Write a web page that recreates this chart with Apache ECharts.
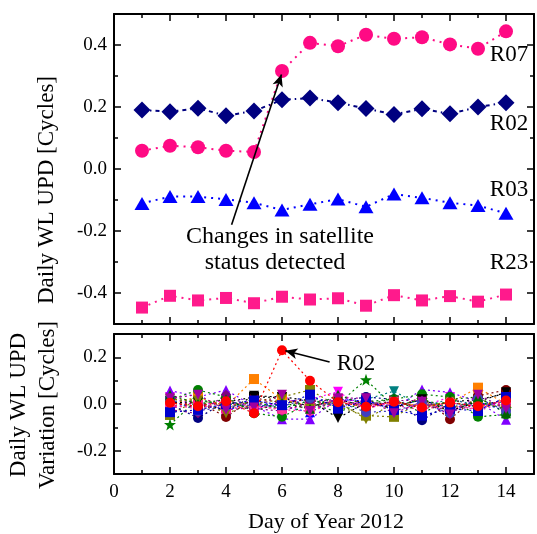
<!DOCTYPE html>
<html>
<head>
<meta charset="utf-8">
<script src="https://cdn.jsdelivr.net/npm/echarts@6/dist/echarts.min.js"></script>
<style>
  html, body { margin: 0; padding: 0; background: #fff; }
  #chart { width: 537px; height: 534px; }
</style>
</head>
<body>
<div id="chart"></div>
<script>
// Daily wide-lane UPD of selected GLONASS satellites (upper panel)
const days = [1, 2, 3, 4, 5, 6, 7, 8, 9, 10, 11, 12, 13, 14];
const r07 = [0.059, 0.075, 0.070, 0.059, 0.055, 0.316, 0.407, 0.396, 0.433, 0.420, 0.425, 0.402, 0.388, 0.444];
const r02 = [0.190, 0.185, 0.196, 0.172, 0.187, 0.223, 0.229, 0.214, 0.195, 0.176, 0.194, 0.178, 0.200, 0.214];
const r03 = [-0.111, -0.089, -0.089, -0.098, -0.109, -0.132, -0.114, -0.097, -0.122, -0.081, -0.093, -0.109, -0.118, -0.143];
const r23 = [-0.447, -0.409, -0.424, -0.416, -0.433, -0.412, -0.421, -0.417, -0.441, -0.407, -0.424, -0.410, -0.428, -0.405];

// Day-to-day variation of the UPD for every satellite (lower panel)
const varDays = [2, 3, 4, 5, 6, 7, 8, 9, 10, 11, 12, 13, 14];
const dR01 = [0.012, -0.018, 0.008, 0.030, 0.028, -0.012, 0.020, -0.010, 0.015, -0.020, 0.010, 0.018, 0.045];
const dR02 = [0.005, -0.010, 0.012, -0.040, 0.230, 0.100, 0.008, -0.012, 0.010, -0.015, 0.006, -0.010, 0.015];
const dR03 = [-0.020, 0.010, -0.030, 0.015, -0.010, -0.035, 0.020, 0.012, -0.010, 0.018, -0.020, 0.010, -0.030];
const dR04 = [0.030, -0.010, 0.020, -0.025, 0.010, 0.020, 0.053, -0.020, 0.010, -0.010, 0.030, -0.020, 0.010];
const dR05 = [-0.047, 0.020, -0.015, 0.010, 0.030, 0.060, -0.010, -0.050, -0.055, 0.010, -0.030, 0.020, -0.010];
const dR06 = [0.000, -0.060, 0.010, -0.020, 0.015, -0.010, 0.010, 0.030, 0.020, -0.070, 0.005, -0.010, 0.020];
const dR07 = [0.058, 0.030, 0.060, -0.010, -0.065, -0.065, 0.020, 0.010, -0.020, 0.062, 0.050, 0.010, -0.068];
const dR08 = [0.010, 0.020, -0.010, 0.000, -0.020, 0.015, -0.010, 0.020, 0.055, -0.010, 0.020, -0.005, 0.010];
const dR09 = [-0.010, 0.010, -0.056, 0.026, 0.005, 0.020, -0.015, 0.020, -0.020, 0.030, -0.065, 0.035, 0.060];
const dR10 = [0.000, 0.030, -0.010, 0.107, 0.020, -0.010, 0.015, -0.020, 0.010, -0.010, 0.005, 0.070, 0.000];
const dR11 = [-0.088, 0.020, -0.005, 0.010, -0.020, 0.015, 0.000, 0.104, -0.010, 0.020, -0.015, 0.010, -0.020];
const dR12 = [0.017, 0.060, 0.030, -0.040, -0.055, 0.003, -0.035, 0.010, 0.020, 0.042, 0.030, -0.055, -0.045];
const dR13 = [-0.015, -0.005, -0.020, -0.010, -0.020, -0.010, 0.020, -0.010, 0.010, -0.020, -0.010, -0.020, 0.020];
const dR14 = [0.005, 0.010, -0.030, 0.035, 0.030, 0.015, -0.060, 0.005, -0.015, 0.020, -0.030, 0.010, 0.050];
const dR15 = [-0.025, -0.040, 0.040, -0.020, -0.030, 0.010, 0.020, -0.020, 0.015, 0.015, -0.035, 0.000, -0.010];
const dR16 = [0.020, 0.015, -0.040, 0.000, 0.020, -0.020, 0.010, -0.065, 0.005, -0.010, 0.010, -0.015, 0.000];
const dR17 = [0.020, -0.030, -0.010, -0.005, -0.010, 0.025, 0.010, -0.035, -0.030, 0.005, -0.040, 0.025, -0.030];
const dR18 = [-0.005, -0.020, 0.010, -0.008, -0.025, -0.030, 0.005, 0.000, -0.005, -0.025, 0.010, -0.030, 0.010];
const dR19 = [0.040, 0.000, 0.020, -0.030, 0.005, -0.020, 0.040, -0.005, 0.025, -0.040, 0.020, 0.030, -0.040];
const dR20 = [-0.035, -0.025, 0.000, 0.015, -0.005, 0.040, -0.020, 0.015, -0.025, -0.050, -0.020, -0.030, 0.030];
const dR21 = [0.025, 0.040, -0.025, -0.015, 0.040, -0.030, 0.025, 0.025, -0.040, 0.010, -0.045, 0.040, -0.020];

// Axis ticks
const xMajor = [0, 2, 4, 6, 8, 10, 12, 14];
const xMinor = [1, 3, 5, 7, 9, 11, 13];
const yTopMajor = [-0.4, -0.2, 0, 0.2, 0.4];
const yTopMinor = [-0.3, -0.1, 0.1, 0.3];
const yBotMajor = [-0.2, 0, 0.2];
const yBotMinor = [-0.1, 0.1];

const FONT = '"Liberation Serif","Times New Roman",Times,serif';
const STAR = 'path://M0,-10L2.35,-3.24L9.51,-3.09L3.8,1.24L5.88,8.09L0,4L-5.88,8.09L-3.8,1.24L-9.51,-3.09L-2.35,-3.24Z';
const DOWN = 'path://M0,0L10,0L5,9Z';

const chart = echarts.init(document.getElementById('chart'), null, { renderer: 'canvas' });

const LINE = { show: true, onZero: false, lineStyle: { color: '#000', width: 2 } };
const TICK = { color: '#000', width: 1.5 };

function axisSet(dim, grid, min, max, major, minor, labelPositions, showLabel) {
  const list = [];
  labelPositions.forEach(function (pos, k) {
    const base = { type: 'value', gridIndex: grid, min: min, max: max, position: pos, splitLine: { show: false } };
    list.push(Object.assign({}, base, {
      axisLine: LINE,
      axisTick: { show: true, inside: true, length: 7, customValues: major, lineStyle: TICK },
      axisLabel: {
        show: showLabel && k === 0,
        customValues: major,
        margin: dim === 'x' ? 9 : 7,
        fontSize: 19,
        color: '#000',
        fontFamily: FONT,
        formatter: dim === 'x' ? function (v) { return String(v); } : function (v) { return v.toFixed(1); }
      }
    }));
    list.push(Object.assign({}, base, {
      axisLine: { show: false, onZero: false },
      axisTick: { show: true, inside: true, length: 4, customValues: minor, lineStyle: TICK },
      axisLabel: { show: false }
    }));
  });
  return list;
}

const xAxes = [].concat(
  axisSet('x', 0, 0, 15, xMajor, xMinor, ['bottom', 'top'], false),
  axisSet('x', 1, 0, 15, xMajor, xMinor, ['bottom', 'top'], true)
);
const yAxes = [].concat(
  axisSet('y', 0, -0.5, 0.5, yTopMajor, yTopMinor, ['left', 'right'], true),
  axisSet('y', 1, -0.3, 0.3, yBotMajor, yBotMinor, ['left', 'right'], true)
);

function pairs(xs, ys) { return xs.map(function (x, i) { return [x, ys[i]]; }); }

function nameLabel(offset) {
  return { show: true, formatter: '{a}', position: 'inside', offset: offset,
           fontSize: 23, color: '#000', fontFamily: FONT };
}

function topSeries(name, values, color, symbol, size, dash, labelOffset, extra) {
  const data = pairs(days, values);
  const last = data.length - 1;
  data[last] = { value: data[last], label: nameLabel(labelOffset) };
  return Object.assign({
    name: name, type: 'line', xAxisIndex: 0, yAxisIndex: 0,
    data: data, symbol: symbol, symbolSize: size, showSymbol: true,
    itemStyle: { color: color, borderWidth: 0 },
    lineStyle: { color: color, width: 2, type: dash },
    label: { show: false },
    animation: false, z: 3
  }, extra || {});
}

const series = [
  topSeries('R07', r07, '#FF0A84', 'circle', 14, [2, 5], [3, 24], {
    markLine: {
      silent: true, symbol: ['none', 'arrow'], symbolSize: [8, 12],
      lineStyle: { color: '#000', width: 1.6, type: 'solid' },
      label: { show: false },
      data: [[{ coord: [4.2, -0.18] }, { coord: [5.98, 0.305] }]],
      z: 10
    }
  }),
  topSeries('R02', r02, '#000080', 'diamond', [17, 17], [4, 4, 1.5, 4], [3, 21]),
  topSeries('R03', r03, '#0000FF', 'triangle', [15, 13], [2, 5], [3, -23]),
  topSeries('R23', r23, '#FF1A8C', 'rect', 12, [2, 5], [3, -32])
];

// Lower panel: one dotted line per satellite
const varSeries = [
  ['R01', dR01, '#000000', 'rect'],
  ['R03', dR03, '#0000FF', 'triangle'],
  ['R04', dR04, '#FF00FF', DOWN],
  ['R05', dR05, '#808000', 'rect'],
  ['R06', dR06, '#000080', 'circle'],
  ['R07', dR07, '#8000FF', 'triangle'],
  ['R08', dR08, '#008080', DOWN],
  ['R09', dR09, '#800000', 'circle'],
  ['R10', dR10, '#FF8000', 'rect'],
  ['R11', dR11, '#008000', STAR],
  ['R12', dR12, '#008000', 'circle'],
  ['R13', dR13, '#FF1493', 'rect'],
  ['R14', dR14, '#000000', DOWN],
  ['R15', dR15, '#800080', 'diamond'],
  ['R16', dR16, '#808000', DOWN],
  ['R17', dR17, '#4040C0', 'circle'],
  ['R18', dR18, '#FF3399', 'circle'],
  ['R19', dR19, '#006400', 'triangle'],
  ['R20', dR20, '#0000CD', 'rect'],
  ['R21', dR21, '#A000A0', DOWN]
];

varSeries.forEach(function (s) {
  series.push({
    name: s[0], type: 'line', xAxisIndex: 4, yAxisIndex: 4,
    data: pairs(varDays, s[1]), symbol: s[3], symbolSize: s[3] === STAR ? 12 : 10,
    itemStyle: { color: s[2], borderWidth: 0 },
    lineStyle: { color: s[2], width: 1.2, type: [2, 3] },
    animation: false, z: 2
  });
});

// R02 is drawn last in the lower panel so its jump stays visible
const r02Var = pairs(varDays, dR02);
r02Var[4] = { value: r02Var[4], label: nameLabel([74, 14]) };
series.push({
  name: 'R02', type: 'line', xAxisIndex: 4, yAxisIndex: 4,
  data: r02Var, symbol: 'circle', symbolSize: 10,
  itemStyle: { color: '#FF0000', borderWidth: 0 },
  lineStyle: { color: '#FF0000', width: 1.2, type: [2, 3] },
  label: { show: false },
  animation: false, z: 4,
  markLine: {
    silent: true, symbol: ['none', 'arrow'], symbolSize: [8, 12],
    lineStyle: { color: '#000', width: 1.6, type: 'solid' },
    label: { show: false },
    data: [[{ coord: [7.7, 0.18] }, { coord: [6.12, 0.228] }]]
  }
});

chart.setOption({
  backgroundColor: '#fff',
  animation: false,
  grid: [
    { left: 114, top: 14, width: 420, height: 310, containLabel: false },
    { left: 114, top: 334, width: 420, height: 140, containLabel: false }
  ],
  xAxis: xAxes,
  yAxis: yAxes,
  series: series,
  graphic: [
    { type: 'text', x: 47, y: 190, rotation: Math.PI / 2,
      style: { text: 'Daily WL UPD [Cycles]', font: '23px ' + FONT, fill: '#000', align: 'center', verticalAlign: 'middle' } },
    { type: 'text', x: 33, y: 405, rotation: Math.PI / 2,
      style: { text: 'Daily WL UPD\nVariation [Cycles]', font: '23px ' + FONT, lineHeight: 29, fill: '#000', align: 'center', verticalAlign: 'middle' } },
    { type: 'text', x: 326, y: 522,
      style: { text: 'Day of Year 2012', font: '22px ' + FONT, fill: '#000', align: 'center', verticalAlign: 'middle' } },
    { type: 'text', x: 280, y: 237,
      style: { text: 'Changes in satellite', font: '24px ' + FONT, fill: '#000', align: 'center', verticalAlign: 'middle' } },
    { type: 'text', x: 275, y: 263,
      style: { text: 'status detected', font: '24px ' + FONT, fill: '#000', align: 'center', verticalAlign: 'middle' } }
  ]
});
</script>
</body>
</html>
